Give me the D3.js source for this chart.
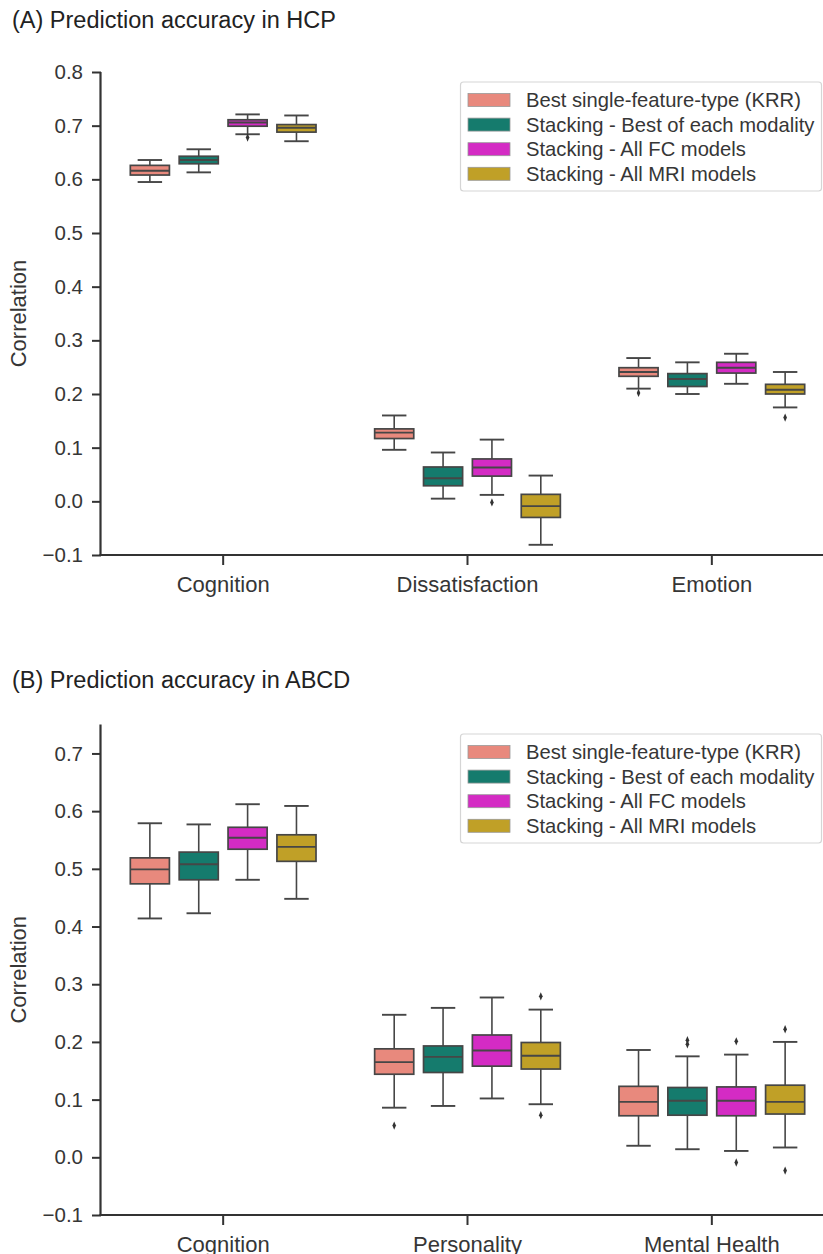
<!DOCTYPE html>
<html>
<head>
<meta charset="utf-8">
<script src="https://cdn.jsdelivr.net/npm/d3@7"></script>
<style>
  html, body { margin: 0; padding: 0; background: #fff; }
  svg { display: block; font-family: "Liberation Sans", Arial, sans-serif; }
</style>
</head>
<body>
<svg id="chart" width="823" height="1254"></svg>
<script>
// ---------------- data ----------------
const hues = ["Best single-feature-type (KRR)", "Stacking - Best of each modality", "Stacking - All FC models", "Stacking - All MRI models"];
const hueColors = ["#E8897D", "#157B6D", "#D42BC4", "#C0A027"];

// Panel A (HCP)
const hcpCategories = ["Cognition", "Dissatisfaction", "Emotion"];
const hcpTicks = [-0.1, 0.0, 0.1, 0.2, 0.3, 0.4, 0.5, 0.6, 0.7, 0.8];
// each entry: [lower whisker, q1, median, q3, upper whisker]
const hcpKRR  = [[0.595, 0.608, 0.616, 0.626, 0.636], [0.096, 0.117, 0.128, 0.135, 0.160], [0.210, 0.233, 0.241, 0.249, 0.267]];
const hcpBest = [[0.613, 0.629, 0.636, 0.643, 0.656], [0.005, 0.029, 0.043, 0.064, 0.091], [0.200, 0.214, 0.228, 0.238, 0.259]];
const hcpFC   = [[0.684, 0.699, 0.706, 0.711, 0.721], [0.012, 0.047, 0.063, 0.079, 0.115], [0.219, 0.239, 0.249, 0.259, 0.275]];
const hcpMRI  = [[0.671, 0.688, 0.696, 0.702, 0.719], [-0.081, -0.030, -0.009, 0.013, 0.048], [0.175, 0.200, 0.208, 0.218, 0.241]];
const hcpKRROut  = [[], [], [0.202]];
const hcpBestOut = [[], [], []];
const hcpFCOut   = [[0.678], [-0.002], []];
const hcpMRIOut  = [[], [], [0.156]];

// Panel B (ABCD)
const abcdCategories = ["Cognition", "Personality", "Mental Health"];
const abcdTicks = [-0.1, 0.0, 0.1, 0.2, 0.3, 0.4, 0.5, 0.6, 0.7];
const abcdKRR  = [[0.414, 0.474, 0.499, 0.519, 0.579], [0.086, 0.144, 0.165, 0.188, 0.247], [0.020, 0.072, 0.096, 0.123, 0.186]];
const abcdBest = [[0.423, 0.481, 0.508, 0.529, 0.577], [0.089, 0.147, 0.174, 0.193, 0.259], [0.014, 0.073, 0.098, 0.121, 0.175]];
const abcdFC   = [[0.481, 0.534, 0.554, 0.572, 0.612], [0.102, 0.158, 0.185, 0.212, 0.277], [0.011, 0.072, 0.098, 0.122, 0.178]];
const abcdMRI  = [[0.448, 0.513, 0.538, 0.559, 0.609], [0.092, 0.153, 0.176, 0.199, 0.256], [0.017, 0.075, 0.096, 0.125, 0.200]];
const abcdKRROut  = [[], [0.055], []];
const abcdBestOut = [[], [], [0.203, 0.196]];
const abcdFCOut   = [[], [], [0.201, -0.009]];
const abcdMRIOut  = [[], [0.279, 0.073], [0.222, -0.023]];

// ---------------- drawing ----------------
const svg = d3.select("#chart");
const textColor = "#363636";
const lineColor = "#464646";

function panel(cfg) {
  const g = svg.append("g");
  const x = d3.scaleBand().domain(cfg.categories).range([cfg.left, cfg.right]).paddingInner(0).paddingOuter(0);
  const y = d3.scaleLinear().domain(cfg.yDomain).range([cfg.bottom, cfg.top]);
  const sub = d3.scaleBand().domain(hues).range([0, x.bandwidth() * 0.8]);
  const boxW = sub.bandwidth() * 0.8;
  const capW = sub.bandwidth() * 0.5;

  // title
  g.append("text").attr("x", 12).attr("y", cfg.titleY)
    .attr("font-size", 23.5).attr("fill", "#222").text(cfg.title);

  // y axis
  const yAxis = d3.axisLeft(y).tickValues(cfg.ticks).tickFormat(d3.format(".1f")).tickSize(9).tickPadding(9);
  const ya = g.append("g").attr("transform", `translate(${cfg.left},0)`).call(yAxis);
  ya.select(".domain").attr("stroke", "#333").attr("stroke-width", 2.2).attr("d", `M-0.5,${cfg.bottom}V${cfg.top}`);
  ya.selectAll(".tick line").attr("stroke", "#333").attr("stroke-width", 2);
  ya.selectAll(".tick text").attr("font-size", 20.5).attr("fill", textColor)
    .text(d => d3.format(".1f")(d).replace("-", "\u2212"));

  // x axis
  const xAxis = d3.axisBottom(x).tickSize(10).tickPadding(11).tickSizeOuter(0);
  const xa = g.append("g").attr("transform", `translate(0,${cfg.bottom})`).call(xAxis);
  xa.select(".domain").attr("stroke", "#333").attr("stroke-width", 2.2).attr("d", `M${cfg.left - 1.5},0H${cfg.right}`);
  xa.selectAll(".tick line").attr("stroke", "#333").attr("stroke-width", 2);
  xa.selectAll(".tick text").attr("font-size", 22).attr("fill", textColor);

  // y label
  g.append("text")
    .attr("transform", `translate(${cfg.ylabelX},${(cfg.top + cfg.bottom) / 2}) rotate(-90)`)
    .attr("text-anchor", "middle").attr("font-size", 22).attr("fill", textColor)
    .text("Correlation");

  // boxes
  cfg.series.forEach((stats, hi) => {
    const hue = hues[hi];
    stats.forEach((s, ci) => {
      const cx = x(cfg.categories[ci]) + x.bandwidth() * 0.1 + sub(hue) + sub.bandwidth() / 2;
      const [lo, q1, med, q3, hiW] = s;
      const bg = g.append("g");
      bg.append("line").attr("x1", cx).attr("x2", cx).attr("y1", y(q3)).attr("y2", y(hiW))
        .attr("stroke", lineColor).attr("stroke-width", 1.6);
      bg.append("line").attr("x1", cx).attr("x2", cx).attr("y1", y(q1)).attr("y2", y(lo))
        .attr("stroke", lineColor).attr("stroke-width", 1.6);
      [lo, hiW].forEach(v => {
        bg.append("line").attr("x1", cx - capW / 2).attr("x2", cx + capW / 2).attr("y1", y(v)).attr("y2", y(v))
          .attr("stroke", lineColor).attr("stroke-width", 1.9);
      });
      bg.append("rect").attr("x", cx - boxW / 2).attr("width", boxW)
        .attr("y", y(q3)).attr("height", y(q1) - y(q3))
        .attr("fill", hueColors[hi]).attr("stroke", lineColor).attr("stroke-width", 1.7);
      bg.append("line").attr("x1", cx - boxW / 2).attr("x2", cx + boxW / 2).attr("y1", y(med)).attr("y2", y(med))
        .attr("stroke", lineColor).attr("stroke-width", 1.9);
      cfg.outliers[hi][ci].forEach(v => {
        bg.append("path").attr("d", d3.symbol(d3.symbolDiamond, 20)())
          .attr("transform", `translate(${cx},${y(v)}) scale(0.75,1)`)
          .attr("fill", "#333");
      });
    });
  });

  // legend
  const lg = g.append("g");
  lg.append("rect").attr("x", 460.5).attr("y", cfg.legendTop).attr("width", 361).attr("height", 109)
    .attr("rx", 3).attr("fill", "#fff").attr("stroke", "#d5d5d5").attr("stroke-width", 1.2);
  hues.forEach((h, i) => {
    const ry = cfg.legendTop + 18 + i * 24.6;
    lg.append("rect").attr("x", 468).attr("y", ry - 6.5).attr("width", 42).attr("height", 13)
      .attr("fill", hueColors[i]).attr("stroke", "#999").attr("stroke-width", 0.8);
    lg.append("text").attr("x", 526).attr("y", ry).attr("dy", "0.35em")
      .attr("font-size", 20.2).attr("fill", textColor).text(h);
  });
}

panel({
  title: "(A) Prediction accuracy in HCP", titleY: 28,
  categories: hcpCategories, ticks: hcpTicks, yDomain: [-0.1, 0.8],
  left: 101, right: 834, top: 72, bottom: 555, ylabelX: 26,
  series: [hcpKRR, hcpBest, hcpFC, hcpMRI],
  outliers: [hcpKRROut, hcpBestOut, hcpFCOut, hcpMRIOut],
  legendTop: 82
});

panel({
  title: "(B) Prediction accuracy in ABCD", titleY: 688,
  categories: abcdCategories, ticks: abcdTicks, yDomain: [-0.1, 0.75],
  left: 101, right: 834, top: 724.6, bottom: 1215, ylabelX: 26,
  series: [abcdKRR, abcdBest, abcdFC, abcdMRI],
  outliers: [abcdKRROut, abcdBestOut, abcdFCOut, abcdMRIOut],
  legendTop: 734
});
</script>
</body>
</html>
